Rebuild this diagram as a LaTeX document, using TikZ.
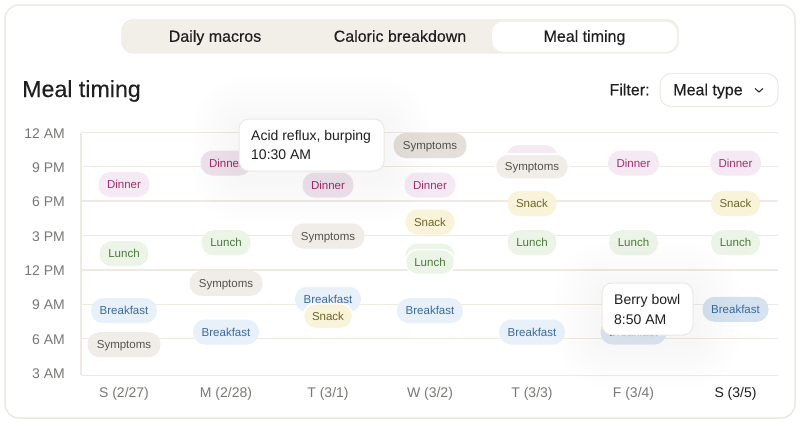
\documentclass[tikz,border=0pt]{standalone}
\usepackage{fontspec}
\setmainfont{Liberation Sans}
\newfontfamily\medfont[FakeBold=0.25]{Liberation Sans}
\definecolor{cardline}{HTML}{EDE8E1}
\definecolor{tabbg}{HTML}{F2EEE8}
\definecolor{gridcol}{HTML}{EEE9E3}
\definecolor{inkcol}{HTML}{1F1F1F}
\definecolor{axiscol}{HTML}{7A7875}
\tikzset{
    every node/.style={inner sep=0pt, text=inkcol},
    pill/.style={rounded corners=12pt, minimum height=25pt, text height=8pt, text depth=0pt, font=\fontsize{11.5}{13}\selectfont},
    dinnerpill/.style={pill, fill=dinnerbg, text=dinnerink, minimum width=51pt},
    lunchpill/.style={pill, fill=lunchbg, text=lunchink, minimum width=49pt},
    breakfastpill/.style={pill, fill=breakfastbg, text=breakfastink, minimum width=66pt},
    symptomspill/.style={pill, fill=symptomsbg, text=symptomsink, minimum width=73pt},
    snackpill/.style={pill, fill=snackbg, text=snackink, minimum width=49pt},
    halo/.style={draw=white, line width=1.5pt},
    tablabel/.style={text height=12pt, text depth=1.5pt, font=\medfont\fontsize{16}{18}\selectfont},
    axislabel/.style={text=axiscol, text height=10pt, text depth=0pt, font=\fontsize{14}{16}\selectfont},
    tooltip/.style={draw=cardline, fill=white, rounded corners=10pt, line width=1pt},
    tiptext/.style={anchor=base west, font=\fontsize{14}{16}\selectfont},
}
\definecolor{dinnerbg}{HTML}{F5EAF3}
\definecolor{dinnerdark}{HTML}{EEE2ED}
\definecolor{dinnerink}{HTML}{A0306F}
\definecolor{lunchbg}{HTML}{ECF4E7}
\definecolor{lunchink}{HTML}{4A7A3A}
\definecolor{breakfastbg}{HTML}{E8F0F9}
\definecolor{breakfastdark}{HTML}{D5E3F0}
\definecolor{breakfastpale}{HTML}{DFE8F2}
\definecolor{breakfastink}{HTML}{3A6A9E}
\definecolor{symptomsbg}{HTML}{F0ECE7}
\definecolor{symptomsdark}{HTML}{E4DFD9}
\definecolor{symptomsink}{HTML}{55524E}
\definecolor{snackbg}{HTML}{F8F3D9}
\definecolor{snackink}{HTML}{6F6528}
\newcommand{\softshadow}[4]{
    \foreach \rr in {6,12,...,48} {
        \fill[black, opacity=0.004, rounded corners=\rr pt+8pt]
            (#1-\rr,#2-\rr+6) rectangle (#3+\rr,#4+\rr+6);
    }
}
\begin{document}
\begin{tikzpicture}[x=1pt,y=-1pt]
    \useasboundingbox (0,0) rectangle (800,423);
    \draw[cardline, line width=1.5pt, fill=white, rounded corners=14pt] (5,5) rectangle (795,418);

    % tabs
    \node (tabs) at (400,36.25) [fill=tabbg, draw=cardline, rounded corners=12pt, minimum width=557pt, minimum height=34pt] {};
    \node (active) at (584.5,36.75) [fill=white, rounded corners=11pt, minimum width=185pt, minimum height=30pt] {};
    \node (daily) at (215,36.5) [tablabel] {Daily macros};
    \node (caloric) at (400,36.5) [tablabel] {Caloric breakdown};
    \node (mealtab) at (584.5,36.5) [tablabel] {Meal timing};

    % heading and filter
    \node (title) at (22,90) [anchor=west, text height=17pt, text depth=3pt, font=\medfont\fontsize{23.2}{25}\selectfont] {Meal timing};
    \node (filter) at (629.5,90) [tablabel] {Filter:};
    \node (filterbtn) at (719,90) [draw=cardline, fill=white, rounded corners=11pt, line width=1pt, minimum width=118pt, minimum height=33pt] {};
    \node (mealtype) at (708,90) [tablabel] {Meal type};
    \draw[inkcol, line width=1pt] ([shift={(-23.5,-1.5)}]filterbtn.east) -- ([shift={(-19.5,2)}]filterbtn.east) -- ([shift={(-15.5,-1.5)}]filterbtn.east);

    % grid
    \foreach \yy/\yl/\lab in {132.5/133/12 AM,166.5/167.5/9 PM,201/201.5/6 PM,235.5/236/3 PM,270/270/12 PM,304.5/304.5/9 AM,338.5/339/6 AM,375.25/373/3 AM} {
        \draw[gridcol, line width=1.2pt] (81,\yy) -- (778,\yy);
        \node at (65,\yl) [axislabel, anchor=east] {\lab};
    }
    \draw[gridcol, line width=1.2pt] (81,132.5) -- (81,375.25);

    % days
    \foreach \nn/\xx/\lab in {a/124/{S (2/27)},b/226/{M (2/28)},c/328/{T (3/1)},d/430/{W (3/2)},e/532/{T (3/3)},f/633.5/{F (3/4)}} {
        \node (day\nn) at (\xx,392.5) [axislabel] {\lab};
    }
    \node (dayg) at (735.5,392.5) [text height=10pt, text depth=0pt, font=\fontsize{14}{16}\selectfont] {S (3/5)};

    % pills
    \foreach \nn/\xx/\yy in {a/124/184.5,d/430/185,f/633.5/163,g/735.5/163} {
        \node (dinner\nn) at (\xx,\yy) [dinnerpill] {Dinner};
    }
    \node (dinnerb) at (226,163) [dinnerpill, fill=dinnerdark] {Dinner};
    \node (dinnerc) at (328,185) [dinnerpill, fill=dinnerdark] {Dinner};
    \node (dinnere) at (532,157.5) [dinnerpill] {};
    \foreach \nn/\xx/\yy in {a/124/253.7,b/226/242.7,e/532/242.7,f/633.5/242.7,g/735.5/242.7} {
        \node (lunch\nn) at (\xx,\yy) [lunchpill] {Lunch};
    }
    \node (lunchback) at (430,256) [lunchpill] {};
    \foreach \nn/\xx/\yy in {a/124/310.7,b/226/332,c/328/299.3,d/430/310.7,e/532/332} {
        \node (breakfast\nn) at (\xx,\yy) [breakfastpill] {Breakfast};
    }
    \node (breakfastf) at (633.5,332) [breakfastpill, fill=breakfastpale] {Breakfast};
    \node (breakfastg) at (735.5,309.3) [breakfastpill, fill=breakfastdark] {Breakfast};
    \foreach \nn/\xx/\yy in {a/124/344.7,b/226/283.3,c/328/236} {
        \node (symptoms\nn) at (\xx,\yy) [symptomspill] {Symptoms};
    }
    \node (symptomsd) at (430,145.5) [symptomspill, fill=symptomsdark] {Symptoms};
    \foreach \nn/\xx/\yy in {d/430/222,e/532/203.5,g/735.5/203.5} {
        \node (snack\nn) at (\xx,\yy) [snackpill] {Snack};
    }
    % these sit on top of another pill
    \node (symptomse) at (532,166.7) [symptomspill, halo] {Symptoms};
    \node (snackc) at (328,316) [snackpill, halo] {Snack};
    \node (lunchd) at (430,262) [lunchpill, halo] {Lunch};

    % tooltips
    \softshadow{239}{119}{384}{171}
    \node (acid) at (311.5,145) [tooltip, minimum width=145pt, minimum height=52pt] {};
    \node (acidname) at (251,140) [tiptext] {Acid reflux, burping};
    \node (acidtime) at (251,159) [tiptext] {10:30 AM};

    \softshadow{602}{283}{693}{335}
    \node (berry) at (647.5,309) [tooltip, minimum width=91pt, minimum height=52pt] {};
    \node (berryname) at (614,304) [tiptext] {Berry bowl};
    \node (berrytime) at (614,324) [tiptext] {8:50 AM};
\end{tikzpicture}
\end{document}
